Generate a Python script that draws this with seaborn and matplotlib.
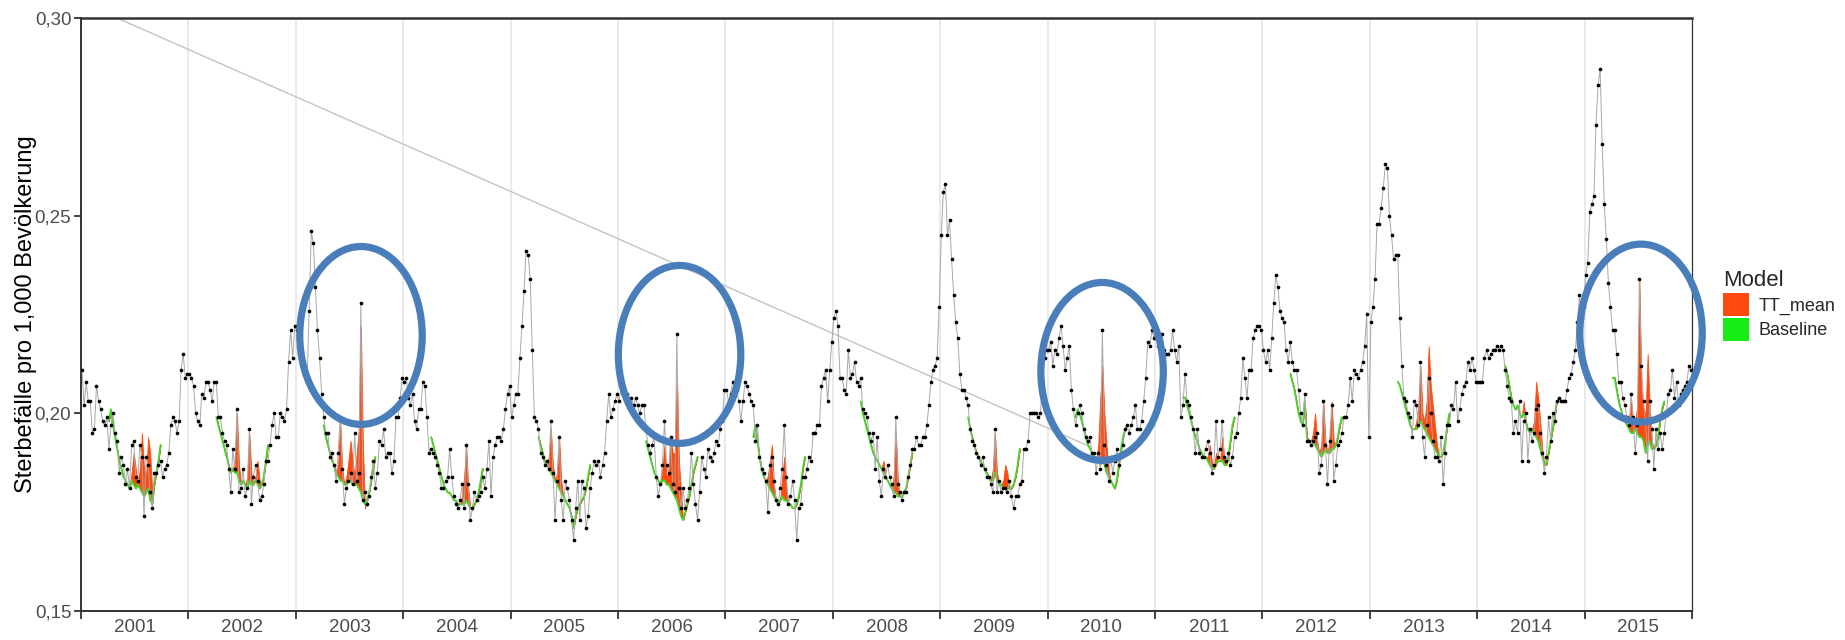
import numpy as np
import pandas as pd
import matplotlib
matplotlib.use("Agg")
import matplotlib.pyplot as plt
import matplotlib.ticker as mticker
from matplotlib.patches import Ellipse, Patch
import seaborn as sns

# ── Data (deaths per 1,000 population, in thousandths, 52 weeks per year) ──
YEARS = list(range(2001, 2016))

obs_2001 = [211, 202, 208, 203, 203, 195, 196, 207, 203, 201, 198, 197, 199, 191, 197, 200, 195, 193, 185, 189,
            187, 182, 186, 181, 192, 193, 184, 183, 192, 189, 174, 189, 187, 180, 176, 185, 185, 187, 188, 184,
            186, 187, 190, 197, 199, 198, 195, 198, 211, 215, 209, 210]
obs_2002 = [210, 209, 207, 200, 198, 197, 205, 204, 208, 208, 206, 203, 208, 208, 199, 199, 195, 193, 192, 186,
            180, 191, 186, 201, 180, 181, 186, 179, 181, 196, 177, 184, 187, 183, 178, 179, 182, 188, 188, 192,
            197, 200, 194, 194, 200, 199, 198, 201, 213, 221, 214, 222]
obs_2003 = [221, 224, 217, 213, 211, 209, 226, 246, 243, 232, 221, 214, 205, 199, 195, 195, 189, 190, 187, 183,
            190, 199, 186, 177, 181, 183, 185, 182, 195, 183, 185, 228, 178, 180, 177, 179, 184, 188, 181, 185,
            193, 192, 196, 189, 190, 190, 185, 188, 199, 199, 204, 209]
obs_2004 = [208, 209, 204, 202, 205, 198, 196, 201, 201, 208, 207, 199, 190, 191, 190, 189, 187, 185, 181, 181,
            183, 184, 191, 184, 179, 177, 176, 178, 182, 176, 192, 182, 173, 176, 180, 178, 179, 180, 184, 181,
            186, 193, 179, 189, 192, 194, 194, 193, 196, 201, 205, 207]
obs_2005 = [199, 202, 205, 205, 214, 222, 231, 241, 240, 234, 216, 199, 198, 196, 190, 189, 187, 188, 186, 198,
            185, 173, 183, 194, 178, 173, 183, 181, 178, 173, 168, 176, 183, 173, 183, 181, 171, 174, 181, 185,
            188, 187, 188, 184, 187, 190, 198, 205, 199, 201, 203, 205]
obs_2006 = [203, 207, 206, 204, 205, 203, 204, 202, 204, 202, 200, 202, 202, 196, 192, 190, 192, 194, 184, 179,
            182, 187, 198, 187, 185, 194, 182, 180, 220, 181, 176, 181, 176, 178, 181, 190, 182, 177, 173, 180,
            189, 186, 184, 191, 189, 188, 190, 193, 192, 196, 198, 206]
obs_2007 = [206, 203, 205, 208, 207, 206, 203, 198, 203, 208, 207, 205, 203, 202, 193, 197, 189, 186, 185, 183,
            175, 187, 189, 183, 178, 177, 181, 186, 197, 184, 177, 179, 183, 178, 168, 176, 177, 184, 184, 186,
            189, 188, 195, 195, 197, 197, 207, 209, 211, 203, 211, 218]
obs_2008 = [224, 226, 222, 209, 209, 206, 205, 216, 209, 210, 213, 208, 207, 209, 201, 200, 199, 195, 193, 195,
            186, 194, 183, 179, 186, 184, 187, 184, 182, 179, 199, 182, 180, 178, 180, 180, 184, 187, 191, 191,
            194, 192, 192, 194, 194, 197, 202, 208, 211, 212, 214, 227]
obs_2009 = [245, 256, 258, 245, 249, 239, 230, 223, 219, 210, 206, 206, 204, 202, 196, 193, 192, 190, 189, 187,
            189, 186, 184, 184, 182, 180, 196, 180, 183, 180, 181, 181, 180, 183, 179, 176, 179, 179, 182, 183,
            191, 191, 193, 200, 200, 200, 200, 199, 200, 208, 214, 216]
obs_2010 = [216, 218, 212, 216, 215, 219, 222, 217, 211, 214, 217, 206, 201, 197, 200, 202, 200, 196, 194, 193,
            194, 190, 190, 185, 190, 186, 221, 192, 187, 183, 189, 185, 188, 191, 187, 189, 192, 196, 197, 195,
            197, 199, 202, 196, 196, 198, 203, 209, 218, 217, 221, 219]
obs_2011 = [221, 217, 220, 220, 216, 215, 215, 216, 221, 216, 213, 217, 199, 202, 210, 203, 202, 199, 196, 190,
            196, 190, 189, 189, 191, 193, 190, 185, 187, 198, 189, 191, 198, 189, 188, 190, 187, 189, 194, 195,
            200, 204, 214, 209, 204, 211, 211, 219, 221, 222, 222, 221]
obs_2012 = [216, 213, 216, 211, 219, 228, 235, 232, 226, 224, 223, 216, 213, 218, 213, 211, 211, 206, 200, 197,
            205, 193, 193, 192, 193, 194, 195, 185, 187, 203, 192, 182, 193, 202, 183, 187, 192, 193, 195, 199,
            199, 202, 209, 203, 211, 210, 209, 211, 213, 217, 225, 194]
obs_2013 = [223, 227, 234, 248, 248, 252, 257, 263, 262, 250, 245, 239, 240, 240, 224, 212, 204, 203, 200, 199,
            194, 203, 202, 197, 213, 194, 189, 197, 209, 200, 193, 189, 189, 188, 194, 182, 190, 197, 197, 202,
            201, 208, 198, 201, 205, 207, 208, 213, 211, 214, 211, 208]
obs_2014 = [208, 208, 208, 214, 216, 214, 215, 216, 216, 217, 216, 217, 216, 211, 207, 204, 203, 195, 198, 195,
            203, 188, 198, 200, 188, 196, 193, 195, 201, 202, 195, 190, 185, 189, 199, 193, 200, 198, 203, 204,
            203, 203, 203, 206, 209, 210, 213, 216, 223, 230, 224, 227]
obs_2015 = [235, 238, 251, 253, 255, 273, 283, 287, 268, 253, 244, 233, 227, 221, 221, 215, 208, 208, 204, 202,
            199, 197, 205, 199, 190, 197, 234, 212, 203, 198, 188, 203, 196, 186, 196, 191, 195, 191, 195, 200,
            205, 206, 211, 204, 208, 202, 205, 206, 207, 208, 212, 211]

# model weeks 14..39 of each year
MODEL_WEEKS = list(range(14, 40))

base_2001 = [198, 201, 197, 194, 191, 188, 186, 184, 183, 182, 181, 183, 182, 181, 182, 181, 180, 179, 180, 181, 178, 177, 182, 185, 188, 192]
tt_2001   = [198, 201, 197, 194, 191, 188, 186, 184, 183, 182, 181, 185, 190, 186, 182, 186, 195, 186, 184, 194, 190, 180, 182, 185, 188, 192]
base_2002 = [199, 197, 195, 193, 191, 189, 187, 185, 186, 185, 185, 183, 182, 183, 182, 181, 183, 182, 182, 183, 182, 181, 182, 184, 188, 192]
tt_2002   = [199, 197, 195, 193, 191, 189, 187, 185, 186, 188, 200, 187, 182, 183, 182, 184, 195, 185, 182, 184, 188, 183, 182, 184, 188, 192]
base_2003 = [197, 194, 192, 190, 188, 187, 185, 184, 183, 183, 182, 182, 183, 183, 182, 182, 182, 181, 180, 178, 177, 178, 180, 183, 186, 189]
tt_2003   = [197, 194, 192, 190, 188, 187, 185, 187, 198, 186, 182, 184, 188, 193, 188, 184, 190, 196, 222, 192, 176, 178, 180, 183, 186, 189]
base_2004 = [194, 192, 190, 188, 186, 184, 182, 181, 180, 180, 179, 178, 178, 177, 177, 177, 177, 178, 177, 176, 176, 177, 178, 180, 183, 186]
tt_2004   = [194, 192, 190, 188, 186, 184, 182, 181, 180, 180, 179, 178, 178, 177, 177, 179, 184, 192, 181, 176, 176, 177, 178, 180, 183, 186]
base_2005 = [194, 192, 190, 188, 187, 186, 185, 184, 183, 182, 181, 180, 179, 178, 177, 176, 174, 171, 174, 176, 177, 178, 179, 181, 184, 187]
tt_2005   = [194, 192, 190, 188, 187, 189, 196, 187, 183, 185, 194, 183, 179, 178, 177, 176, 174, 171, 174, 176, 177, 178, 179, 181, 184, 187]
base_2006 = [193, 191, 189, 187, 185, 184, 183, 182, 183, 183, 182, 182, 181, 180, 179, 178, 176, 174, 173, 175, 177, 179, 182, 185, 187, 189]
tt_2006   = [193, 191, 189, 187, 185, 184, 183, 182, 186, 192, 184, 185, 194, 190, 190, 210, 188, 180, 173, 175, 177, 179, 182, 185, 187, 189]
base_2007 = [194, 197, 193, 189, 186, 184, 183, 182, 181, 180, 179, 178, 177, 178, 179, 178, 178, 177, 177, 176, 176, 177, 179, 182, 186, 189]
tt_2007   = [194, 197, 193, 189, 186, 184, 183, 184, 188, 192, 182, 178, 177, 178, 184, 189, 181, 177, 177, 176, 176, 177, 179, 182, 186, 189]
base_2008 = [203, 200, 198, 196, 194, 192, 190, 189, 188, 187, 186, 185, 184, 183, 182, 181, 180, 180, 179, 179, 179, 180, 181, 184, 187, 190]
tt_2008   = [203, 200, 198, 196, 194, 192, 190, 189, 188, 187, 186, 188, 184, 183, 182, 181, 184, 195, 183, 179, 179, 180, 181, 184, 187, 190]
base_2009 = [199, 196, 194, 192, 190, 189, 188, 187, 186, 185, 184, 183, 183, 185, 183, 182, 182, 181, 181, 181, 181, 181, 182, 184, 187, 191]
tt_2009   = [199, 196, 194, 192, 190, 189, 188, 187, 186, 185, 184, 183, 186, 195, 185, 182, 182, 183, 187, 185, 181, 181, 182, 184, 187, 191]
base_2010 = [199, 201, 200, 198, 196, 194, 192, 191, 190, 189, 188, 188, 187, 188, 187, 185, 184, 183, 182, 181, 183, 187, 191, 194, 196, 197]
tt_2010   = [199, 201, 200, 198, 196, 194, 192, 191, 190, 189, 188, 192, 204, 212, 200, 192, 186, 183, 182, 181, 183, 187, 191, 194, 196, 197]
base_2011 = [204, 204, 202, 200, 198, 196, 194, 193, 191, 190, 189, 189, 188, 187, 186, 186, 187, 188, 188, 188, 187, 187, 189, 193, 197, 199]
tt_2011   = [204, 204, 202, 200, 198, 196, 194, 193, 191, 190, 189, 189, 189, 192, 188, 186, 190, 188, 188, 194, 189, 187, 189, 193, 197, 199]
base_2012 = [210, 208, 206, 203, 200, 198, 197, 203, 194, 193, 193, 193, 192, 191, 190, 189, 190, 191, 190, 190, 191, 191, 192, 194, 197, 199]
tt_2012   = [210, 208, 206, 203, 200, 198, 197, 203, 194, 193, 193, 195, 200, 193, 190, 192, 203, 193, 190, 193, 203, 193, 192, 194, 197, 199]
base_2013 = [208, 207, 205, 203, 201, 199, 197, 196, 196, 196, 197, 198, 197, 196, 195, 194, 193, 192, 191, 190, 189, 189, 190, 193, 197, 200]
tt_2013   = [208, 207, 205, 203, 201, 199, 197, 196, 196, 198, 202, 212, 200, 198, 203, 217, 207, 202, 197, 192, 189, 189, 190, 193, 197, 200]
base_2014 = [212, 210, 207, 204, 202, 201, 202, 200, 199, 200, 198, 196, 195, 196, 195, 194, 193, 191, 189, 187, 187, 190, 193, 196, 199, 203]
tt_2014   = [212, 210, 207, 204, 202, 201, 202, 200, 199, 203, 198, 196, 195, 196, 198, 208, 204, 198, 191, 187, 187, 190, 193, 196, 199, 203]
base_2015 = [209, 209, 206, 203, 201, 199, 198, 197, 196, 195, 195, 196, 195, 194, 194, 193, 190, 192, 193, 191, 191, 192, 194, 198, 201, 203]
tt_2015   = [209, 209, 206, 203, 201, 199, 198, 197, 196, 203, 197, 198, 202, 234, 206, 201, 200, 215, 202, 193, 191, 192, 194, 198, 201, 203]

OBS = [obs_2001, obs_2002, obs_2003, obs_2004, obs_2005, obs_2006, obs_2007, obs_2008,
       obs_2009, obs_2010, obs_2011, obs_2012, obs_2013, obs_2014, obs_2015]
BASE = [base_2001, base_2002, base_2003, base_2004, base_2005, base_2006, base_2007, base_2008,
        base_2009, base_2010, base_2011, base_2012, base_2013, base_2014, base_2015]
TT = [tt_2001, tt_2002, tt_2003, tt_2004, tt_2005, tt_2006, tt_2007, tt_2008,
      tt_2009, tt_2010, tt_2011, tt_2012, tt_2013, tt_2014, tt_2015]

# stray straight line in the original graphic (start / end point)
stray_x = [2001.335, 2010.40]
stray_y = [0.300, 0.1915]

# hand-drawn highlight ellipses (centre year, centre value)
circle_x = [2003.607, 2006.573, 2010.507, 2015.525]
circle_y = [0.2197, 0.2149, 0.2106, 0.2203]
CIRCLE_W, CIRCLE_H = 1.14, 0.0450

ORANGE = "#FF4A0F"
GREEN = "#3FD82A"
BLUE = "#4A7EBB"

# ── Tables ──────────────────────────────────────────────────────────────────
obs_rows, model_rows = [], []
for year, obs, base, tt in zip(YEARS, OBS, BASE, TT):
    for w, v in enumerate(obs, start=1):
        obs_rows.append({"year": year, "x": year + (w - 0.5) / 52, "value": v / 1000})
    for w, b, t in zip(MODEL_WEEKS, base, tt):
        model_rows.append({"year": year, "x": year + (w - 0.5) / 52,
                           "baseline": b / 1000, "tt_mean": t / 1000})
obs_df = pd.DataFrame(obs_rows)
model_df = pd.DataFrame(model_rows)

# ── Plot ────────────────────────────────────────────────────────────────────
sns.set_theme(style="white")
plt.rcParams["font.family"] = ["Liberation Sans", "DejaVu Sans"]

fig = plt.figure(figsize=(18.45, 6.4), dpi=100)
ax = fig.add_axes([0.0439, 0.0453, 0.8732, 0.9266])

for b in range(2002, 2016):
    ax.axvline(b, color="#E4E4E4", lw=1.1, zorder=0)

ax.plot(stray_x, stray_y, color="#C4C4C4", lw=1.0, zorder=1)

for year, grp in model_df.groupby("year"):
    ax.fill_between(grp["x"], grp["baseline"], grp["tt_mean"], facecolor=ORANGE,
                    edgecolor=ORANGE, lw=0.6, zorder=2)
sns.lineplot(data=model_df, x="x", y="baseline", units="year", estimator=None,
             color=GREEN, lw=1.3, ax=ax, zorder=3)

sns.lineplot(data=obs_df, x="x", y="value", estimator=None, color="#A8A8A8", lw=0.7, ax=ax, zorder=4)
sns.scatterplot(data=obs_df, x="x", y="value", color="black", s=7, linewidth=0, ax=ax, zorder=5)

for cx, cy in zip(circle_x, circle_y):
    ax.add_patch(Ellipse((cx, cy), CIRCLE_W, CIRCLE_H, fill=False, edgecolor=BLUE,
                         lw=5.2, zorder=10, clip_on=False))

ax.set_xlim(2001, 2016)
ax.set_ylim(0.15, 0.30)

ax.set_xticks(range(2001, 2017))
ax.set_xticklabels([])
ax.set_xticks([y + 0.5 for y in YEARS], minor=True)
ax.set_xticklabels([str(y) for y in YEARS], minor=True, fontsize=13.5, color="#4D4D4D")
ax.tick_params(axis="x", which="major", length=6, width=1.3, color="#333333", direction="out", bottom=True)
ax.tick_params(axis="x", which="minor", length=0, pad=6)

ax.set_yticks([0.15, 0.20, 0.25, 0.30])
ax.yaxis.set_major_formatter(mticker.FuncFormatter(lambda v, _: f"{v:.2f}".replace(".", ",")))
ax.tick_params(axis="y", labelsize=13.5, labelcolor="#4D4D4D", length=5, width=1.3,
               color="#333333", direction="out", left=True, pad=2)

ax.set_xlabel("")
ax.set_ylabel("Sterbefälle pro 1,000 Bevölkerung", fontsize=17, color="black")
ax.yaxis.set_label_coords(-0.027, 0.5)

for side, lw in [("left", 1.4), ("bottom", 1.4), ("top", 1.8), ("right", 0.9)]:
    ax.spines[side].set_visible(True)
    ax.spines[side].set_color("#333333")
    ax.spines[side].set_linewidth(lw)

handles = [Patch(facecolor=ORANGE, edgecolor="none", label="TT_mean"),
           Patch(facecolor="#14EE14", edgecolor="none", label="Baseline")]
leg = ax.legend(handles=handles, title="Model", loc="upper left", bbox_to_anchor=(1.0135, 0.59),
                frameon=False, borderpad=0, handlelength=1.45, handleheight=1.6, labelspacing=0.1,
                handletextpad=0.55, alignment="left", fontsize=13, title_fontsize=16)

fig.savefig("out.png", dpi=100)
